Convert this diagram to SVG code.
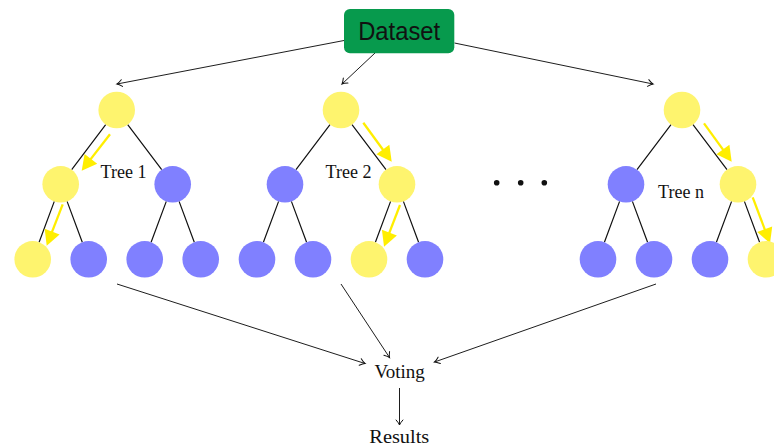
<svg xmlns="http://www.w3.org/2000/svg" width="774" height="446" viewBox="0 0 774 446">
  <style>
    .yes { fill: #FEF46E; }
    .no { fill: #8080FF; }
    .edge { stroke: #111; stroke-width: 1.2; fill: none; }
    .flow { stroke: #111; stroke-width: 0.95; fill: none; marker-end: url(#tip); }
    .path { stroke: #FFEE00; stroke-width: 2.3; fill: none; marker-end: url(#bigtip); }
    .lbl { font-family: "Liberation Serif", "Times New Roman", serif; font-size: 18px; fill: #111; text-anchor: middle; }
    .big { font-family: "Liberation Serif", "Times New Roman", serif; font-size: 19px; fill: #111; text-anchor: middle; }
  </style>
  <defs>
    <marker id="tip" markerUnits="userSpaceOnUse" markerWidth="12" markerHeight="10" viewBox="-6 -5 8 10" refX="0" refY="0" orient="auto">
      <path d="M-5,-3.4 Q-1.8,-0.6 0,0 Q-1.8,0.6 -5,3.4" stroke="#111" stroke-width="1" fill="none" stroke-linecap="round"/>
    </marker>
    <marker id="bigtip" markerUnits="userSpaceOnUse" markerWidth="18" markerHeight="18" viewBox="0 -9 16 18" refX="7" refY="0" orient="auto">
      <path d="M0,-8 L15,0 L0,8 Z" fill="#FFEE00"/>
    </marker>
  </defs>

  <!-- connectors -->
  <g id="connectors">
    <!-- dataset to each tree -->
    <path class="flow" d="M344,40.5 L117,84"/>
    <path class="flow" d="M375,53 L342,84"/>
    <path class="flow" d="M454.5,43 L653,84"/>
    <!-- tree edges, local coordinates with the root at x=0 -->
    <g transform="translate(116.7,0)">
      <path class="edge" d="M-11,124.6 L-45,169.7 M11,124.6 L45,169.7 M-62.4,201.4 L-77.6,242.2 M-49.6,201.4 L-34.4,242.2 M49.6,201.4 L34.4,242.2 M62.4,201.4 L77.6,242.2"/>
      <path class="path" d="M-6.7,134.3 L-30.1,164.4"/>
      <path class="path" d="M-54,204.3 L-67.1,238.2"/>
    </g>
    <g transform="translate(341,0)">
      <path class="edge" d="M-11,124.6 L-45,169.7 M11,124.6 L45,169.7 M-62.4,201.4 L-77.6,242.2 M-49.6,201.4 L-34.4,242.2 M49.6,201.4 L34.4,242.2 M62.4,201.4 L77.6,242.2"/>
      <path class="path" d="M22.3,122.7 L46,155.2"/>
      <path class="path" d="M59,205 L45.9,239.2"/>
    </g>
    <g transform="translate(682,0)">
      <path class="edge" d="M-11,124.6 L-45,169.7 M11,124.6 L45,169.7 M-62.4,201.4 L-77.6,242.2 M-49.6,201.4 L-34.4,242.2 M49.6,201.4 L34.4,242.2 M62.4,201.4 L77.6,242.2"/>
      <path class="path" d="M22,123.3 L45,155.2"/>
      <path class="path" d="M70.7,197.3 L85.2,235.8"/>
    </g>
    <!-- trees to voting -->
    <path class="flow" d="M117,284 L365,363.5"/>
    <path class="flow" d="M341,284 L389.5,357.5"/>
    <path class="flow" d="M656,284 L434.5,362"/>
    <!-- voting to results -->
    <path class="flow" d="M399.5,388 L399.5,425"/>
  </g>

  <!-- dataset -->
  <g id="dataset">
    <rect x="344" y="9" width="110.3" height="44.3" rx="6" fill="#079A4D"/>
    <text x="399.2" y="39.5" font-family="Liberation Sans, Arial, sans-serif" font-size="25" fill="#111" text-anchor="middle" textLength="82" lengthAdjust="spacingAndGlyphs">Dataset</text>
  </g>

  <!-- tree 1 -->
  <g id="t1-root"><circle class="yes" cx="116.7" cy="110" r="18.3"/></g>
  <g id="t1-l"><circle class="yes" cx="60.7" cy="184.3" r="18.3"/></g>
  <g id="t1-r"><circle class="no" cx="172.7" cy="184.3" r="18.3"/></g>
  <g id="t1-ll"><circle class="yes" cx="32.7" cy="259.3" r="18.3"/></g>
  <g id="t1-lr"><circle class="no" cx="88.7" cy="259.3" r="18.3"/></g>
  <g id="t1-rl"><circle class="no" cx="144.7" cy="259.3" r="18.3"/></g>
  <g id="t1-rr"><circle class="no" cx="200.7" cy="259.3" r="18.3"/></g>
  <g id="t1-label"><text class="lbl" x="123.5" y="177.7">Tree 1</text></g>

  <!-- tree 2 -->
  <g id="t2-root"><circle class="yes" cx="341" cy="110" r="18.3"/></g>
  <g id="t2-l"><circle class="no" cx="285" cy="184.3" r="18.3"/></g>
  <g id="t2-r"><circle class="yes" cx="397" cy="184.3" r="18.3"/></g>
  <g id="t2-ll"><circle class="no" cx="257" cy="259.3" r="18.3"/></g>
  <g id="t2-lr"><circle class="no" cx="313" cy="259.3" r="18.3"/></g>
  <g id="t2-rl"><circle class="yes" cx="369" cy="259.3" r="18.3"/></g>
  <g id="t2-rr"><circle class="no" cx="425" cy="259.3" r="18.3"/></g>
  <g id="t2-label"><text class="lbl" x="348.5" y="177.7">Tree 2</text></g>

  <!-- ellipsis between trees -->
  <g id="ellipsis" fill="#111">
    <circle cx="496.7" cy="182.7" r="2.8"/>
    <circle cx="520.7" cy="182.7" r="2.8"/>
    <circle cx="544.3" cy="182.7" r="2.8"/>
  </g>

  <!-- tree n -->
  <g id="tn-root"><circle class="yes" cx="682" cy="110" r="18.3"/></g>
  <g id="tn-l"><circle class="no" cx="626" cy="184.3" r="18.3"/></g>
  <g id="tn-r"><circle class="yes" cx="738" cy="184.3" r="18.3"/></g>
  <g id="tn-ll"><circle class="no" cx="598" cy="259.3" r="18.3"/></g>
  <g id="tn-lr"><circle class="no" cx="654" cy="259.3" r="18.3"/></g>
  <g id="tn-rl"><circle class="no" cx="710" cy="259.3" r="18.3"/></g>
  <g id="tn-rr"><circle class="yes" cx="766" cy="259.3" r="18.3"/></g>
  <g id="tn-label"><text class="lbl" x="681" y="198.3">Tree n</text></g>

  <!-- aggregation -->
  <g id="voting"><text class="big" x="399.7" y="378.3">Voting</text></g>
  <g id="results"><text class="big" x="399.3" y="442.5" textLength="60" lengthAdjust="spacingAndGlyphs">Results</text></g>
</svg>
